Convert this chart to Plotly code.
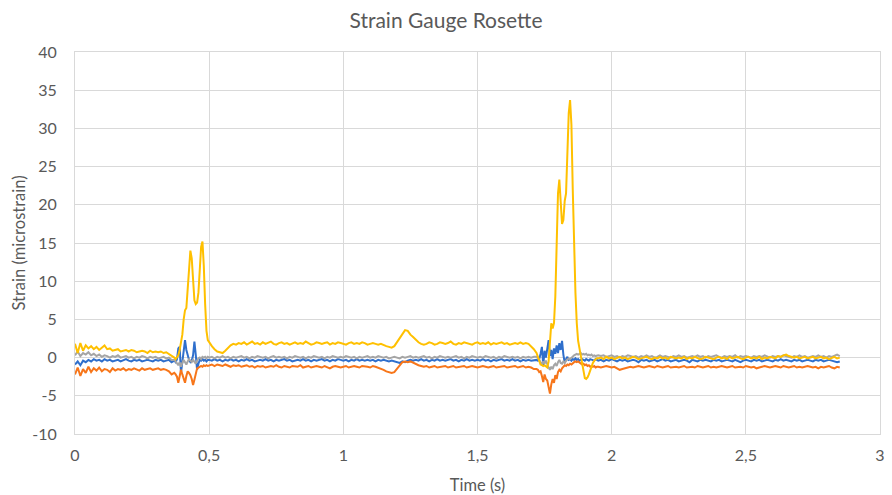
import numpy as np
import plotly.graph_objects as go

# Time segments (s): (start, end) for each block of samples
segments = [(0.00, 0.36), (0.37, 0.495), (0.50, 1.71), (1.72, 1.945), (1.95, 2.85)]

# ---- Series values (microstrain), one list per segment ----
blue_a = [-0.9,-0.5,-1.0,-0.4,-0.6, -0.3,-0.5,-0.2,-0.4,-0.3, -0.5,-0.2,-0.4,-0.3,-0.5, -0.4,-0.3,-0.5,-0.4,-0.2,
          -0.4,-0.5,-0.3,-0.4,-0.3, -0.5,-0.4,-0.3,-0.4,-0.5, -0.3,-0.4,-0.3,-0.5,-0.4, -0.3,-0.6]
blue_b = [-0.4,-0.6,-0.2,1.2,1.4, -2.0,-0.5,1.5,2.3,1.0, 0.1,-0.3,-0.6,-0.4,0.3, 2.1,0.4,-1.6,-0.8,-0.3,
          -0.4,-0.2,-0.4,-0.3,-0.5, -0.3]
blue_c = [-0.3,-0.4,-0.2,-0.4,-0.3,-0.5,-0.3,-0.4,-0.2,-0.4,
          -0.3,-0.5,-0.3,-0.4,-0.2,-0.4,-0.3,-0.5,-0.4,-0.3,
          -0.4,-0.2,-0.4,-0.3,-0.5,-0.3,-0.4,-0.3,-0.2,-0.4,
          -0.3,-0.5,-0.4,-0.3,-0.4,-0.2,-0.4,-0.3,-0.5,-0.3,
          -0.4,-0.3,-0.2,-0.4,-0.3,-0.5,-0.3,-0.4,-0.2,-0.3,
          -0.4,-0.3,-0.5,-0.3,-0.4,-0.2,-0.4,-0.3,-0.4,-0.3,
          -0.4,-0.3,-0.5,-0.3,-0.4,-0.3,-0.4,-0.5,-0.4,-0.5,
          -0.6,-0.7,-0.5,-0.6,-0.4,-0.3,-0.4,-0.3,-0.4,-0.2,
          -0.4,-0.3,-0.5,-0.3,-0.4,-0.2,-0.4,-0.3,-0.4,-0.3,
          -0.2,-0.4,-0.3,-0.5,-0.3,-0.4,-0.2,-0.4,-0.3,-0.4,
          -0.3,-0.4,-0.2,-0.4,-0.3,-0.5,-0.3,-0.4,-0.3,-0.2,
          -0.4,-0.3,-0.4,-0.2,-0.4,-0.3,-0.5,-0.3,-0.4,-0.3,
          -0.4,-0.3]
blue_d = [-0.3,-0.4,-0.2,0.5,1.4, -1.0,0.9,0.0,1.5,2.3, 0.2,1.0,-0.2,1.2,0.5, 1.6,0.6,1.9,1.0,2.2,
          0.4,-0.7,-0.2,0.1,-0.3, -0.2,
          -0.4,-0.2,-0.3,-0.1,-0.3,-0.2,-0.4,-0.3,-0.2,-0.3,-0.4,-0.2,-0.3,-0.4,-0.2,-0.3,-0.3,-0.4,-0.2,-0.3]
blue_e = [-0.4,-0.3,-0.5,-0.3,-0.4,-0.2,-0.4,-0.5,-0.3,-0.4,
          -0.3,-0.5,-0.4,-0.3,-0.4,-0.6,-0.3,-0.4,-0.3,-0.5,
          -0.4,-0.3,-0.5,-0.4,-0.2,-0.4,-0.3,-0.5,-0.4,-0.3,
          -0.5,-0.4,-0.3,-0.4,-0.6,-0.3,-0.4,-0.5,-0.3,-0.4,
          -0.3,-0.4,-0.5,-0.3,-0.4,-0.3,-0.5,-0.4,-0.3,-0.4,
          -0.5,-0.3,-0.4,-0.6,-0.4,-0.3,-0.4,-0.5,-0.3,-0.4,
          -0.3,-0.5,-0.4,-0.3,-0.4,-0.5,-0.3,-0.4,-0.2,-0.4,
          -0.3,-0.4,-0.5,-0.3,-0.4,-0.3,-0.5,-0.4,-0.3,-0.4,
          -0.5,-0.3,-0.4,-0.3,-0.5,-0.4,-0.3,-0.4,-0.5,-0.6,
          -0.5]

orange_a = [-2.2,-1.3,-2.4,-1.5,-2.0, -1.2,-1.9,-1.4,-1.7,-1.3, -1.8,-1.5,-1.6,-1.9,-1.4, -1.7,-1.5,-1.6,-1.4,-1.7,
            -1.5,-1.6,-1.4,-1.5,-1.7, -1.4,-1.6,-1.5,-1.4,-1.6, -1.5,-1.4,-1.6,-1.5,-1.6, -1.8,-2.2]
orange_b = [-2.0,-2.2,-2.5,-3.3,-2.4, -1.6,-2.2,-2.8,-3.3,-2.4, -1.8,-2.0,-2.3,-2.8,-3.6, -2.9,-1.9,-1.4,-1.3,-1.2,
            -1.1,-1.2,-1.0,-1.1,-1.0, -1.1]
orange_c = [-1.0,-0.9,-1.1,-0.9,-1.0,-1.1,-0.9,-1.0,-1.2,-1.0,
            -1.1,-1.0,-1.2,-1.1,-1.0,-1.2,-1.1,-1.3,-1.1,-1.2,
            -1.1,-1.3,-1.2,-1.1,-1.2,-1.0,-1.2,-1.3,-1.1,-1.2,
            -1.3,-1.1,-1.2,-1.2,-1.0,-1.3,-1.2,-1.1,-1.3,-1.2,
            -1.1,-1.2,-1.3,-1.1,-1.2,-1.4,-1.2,-1.1,-1.2,-1.3,
            -1.2,-1.1,-1.3,-1.2,-1.1,-1.2,-1.3,-1.1,-1.2,-1.2,
            -1.3,-1.1,-1.2,-1.3,-1.4,-1.6,-1.8,-1.9,-2.0,-1.9,
            -1.5,-1.0,-0.6,-0.5,-0.6,-0.5,-0.7,-0.9,-1.0,-1.1,
            -1.2,-1.1,-1.3,-1.2,-1.1,-1.3,-1.2,-1.2,-1.1,-1.3,
            -1.2,-1.1,-1.3,-1.2,-1.2,-1.1,-1.3,-1.2,-1.1,-1.2,
            -1.3,-1.2,-1.1,-1.2,-1.3,-1.2,-1.1,-1.3,-1.2,-1.2,
            -1.1,-1.3,-1.2,-1.2,-1.1,-1.3,-1.2,-1.1,-1.3,-1.2,
            -1.3,-1.5]
orange_d = [-1.5,-1.6,-1.9,-1.8,-2.4, -3.2,-2.2,-2.8,-3.0,-3.8, -4.7,-3.5,-2.8,-3.3,-2.3, -2.8,-1.9,-1.6,-1.8,-1.4,
            -1.2,-1.0,-1.1,-0.9,-1.0, -0.8,-0.9,-0.7,-0.6,-0.5, -0.6,-0.5,-0.6,-0.7,-0.9, -0.8,-1.0,-0.9,-1.1,-1.0,
            -1.2,-1.1,-1.2,-1.1,-1.3, -1.2]
orange_e = [-1.2,-1.3,-1.2,-1.1,-1.2,-1.3,-1.2,-1.4,-1.6,-1.5,
            -1.4,-1.3,-1.2,-1.3,-1.2,-1.1,-1.2,-1.3,-1.2,-1.1,
            -1.2,-1.3,-1.1,-1.2,-1.3,-1.2,-1.1,-1.3,-1.2,-1.2,
            -1.3,-1.2,-1.1,-1.3,-1.2,-1.2,-1.3,-1.1,-1.2,-1.3,
            -1.2,-1.1,-1.3,-1.2,-1.3,-1.2,-1.1,-1.2,-1.3,-1.2,
            -1.1,-1.3,-1.2,-1.2,-1.3,-1.1,-1.2,-1.3,-1.2,-1.4,
            -1.3,-1.2,-1.1,-1.2,-1.3,-1.2,-1.1,-1.2,-1.3,-1.1,
            -1.2,-1.3,-1.2,-1.1,-1.3,-1.2,-1.3,-1.2,-1.1,-1.2,
            -1.3,-1.2,-1.4,-1.2,-1.3,-1.2,-1.1,-1.3,-1.4,-1.2,
            -1.3]

gray_a = [0.3,0.8,0.2,0.6,0.4, 0.7,0.3,0.5,0.2,0.4, 0.1,0.3,0.2,0.0,0.2, 0.1,0.3,0.0,0.1,0.2,
          0.0,0.1,-0.1,0.1,0.0, 0.2,0.1,-0.1,0.1,0.0, 0.1,-0.1,0.0,0.1,-0.1, 0.0,-0.3]
gray_b = [-0.3,-0.5,-0.8,-1.0,-0.6, -1.2,-0.7,-0.3,-0.6,-0.9, -0.5,-0.2,-0.4,-0.6,-0.3, -0.5,-0.8,-0.4,-0.1,0.0,
          -0.2,0.1,0.0,0.1,-0.1, 0.1]
gray_c = [0.0,0.1,-0.1,0.1,0.0,0.2,0.0,0.1,-0.1,0.1,
          0.0,0.1,0.2,0.0,0.1,-0.1,0.1,0.0,0.2,0.1,
          0.0,0.1,-0.1,0.1,0.2,0.0,0.1,0.0,0.1,-0.1,
          0.1,0.0,0.2,0.1,0.0,0.1,-0.1,0.1,0.0,0.2,
          0.1,0.0,0.1,-0.1,0.1,0.0,0.2,0.1,0.0,0.1,
          0.0,0.2,0.1,0.0,0.1,-0.1,0.1,0.0,0.1,0.2,
          0.0,0.1,0.0,0.2,0.1,0.0,0.1,-0.1,0.0,0.1,
          0.0,-0.1,0.1,0.0,0.1,0.2,0.0,0.1,0.0,0.1,
          0.2,0.0,0.1,-0.1,0.1,0.0,0.2,0.1,0.0,0.1,
          0.0,0.1,0.2,0.0,0.1,-0.1,0.1,0.0,0.2,0.1,
          0.0,0.1,0.0,0.2,0.1,0.0,0.1,-0.1,0.1,0.0,
          0.2,0.1,0.0,0.1,0.0,0.1,-0.1,0.1,0.0,0.1,
          0.0,0.1]
gray_d = [0.1,0.0,-0.3,-0.6,-0.9, -0.5,-0.8,-0.4,-1.0,-1.3, -1.6,-1.2,-1.5,-1.0,-0.8, -1.1,-0.6,-0.3,-0.7,-0.8,
          -0.5,-0.7,-0.4,-0.3,-0.1, -0.2,0.0,0.2,0.3,0.4, 0.5,0.4,0.5,0.6,0.4, 0.5,0.4,0.5,0.3,0.4,
          0.3,0.4,0.2,0.3,0.2, 0.3]
gray_e = [0.3,0.2,0.3,0.1,0.2,0.3,0.1,0.2,0.0,0.2,
          0.1,0.3,0.2,0.1,0.2,0.0,0.2,0.1,0.3,0.1,
          0.2,0.0,0.1,0.3,0.1,0.2,0.1,0.0,0.2,0.1,
          0.3,0.1,0.2,0.0,0.1,0.2,0.1,0.3,0.1,0.2,
          0.0,0.2,0.1,0.2,0.3,0.1,0.0,0.2,0.1,0.2,
          0.1,0.3,0.0,0.2,0.1,0.2,0.1,0.0,0.2,0.1,
          0.2,0.1,0.3,0.1,0.0,0.2,0.1,0.2,0.1,0.3,
          0.2,0.1,0.0,0.2,0.1,0.3,0.1,0.2,0.0,0.1,
          0.2,0.1,0.3,0.1,0.2,0.0,0.2,0.1,0.3,0.4,
          0.2]

yellow_a = [1.8,0.6,1.9,0.9,1.6, 1.2,1.5,1.1,1.4,1.0, 1.3,1.6,1.1,1.2,0.9, 1.0,1.1,0.8,0.9,1.0,
            0.8,1.0,0.9,0.7,0.8, 0.9,0.8,0.6,0.9,0.7, 0.8,0.7,0.8,0.6,0.7, 0.5,0.3]
yellow_b = [0.0,-0.2,0.1,0.3,1.0, 1.8,3.0,5.0,6.2,6.5, 9.0,12.5,14.0,13.0,9.5, 7.5,7.0,7.2,8.5,11.5,
            14.5,15.2,12.0,7.0,3.5, 2.3]
yellow_c = [2.0,1.5,1.1,0.8,0.7,0.6,0.9,1.3,1.6,1.8,1.7,
            1.9,1.8,2.0,1.7,1.9,2.1,1.8,1.9,1.7,2.0,
            1.8,1.9,2.1,1.8,1.7,1.9,2.0,1.8,1.9,1.7,
            1.9,2.0,1.8,1.9,1.8,2.1,1.9,1.7,1.8,2.0,
            1.9,1.8,1.9,2.0,1.7,1.9,1.8,2.0,1.9,1.8,
            1.7,1.9,2.0,1.8,1.9,1.8,2.0,1.9,1.7,1.8,
            1.9,1.8,1.7,1.8,
            1.6,1.5,1.4,1.3,1.5,2.0,2.5,3.0,3.6,3.5,3.0,2.7,2.3,2.0,1.8,1.7,
            1.8,2.0,1.9,1.7,1.8,2.0,1.9,1.8,1.9,2.1,
            1.8,1.7,1.9,1.8,2.0,1.9,1.8,1.7,1.9,2.0,
            1.8,1.9,1.8,2.0,1.7,1.9,1.8,1.9,2.0,1.8,
            1.9,1.7,1.8,1.9,1.8,2.0,1.8,1.9,1.8,
            1.5,1.1]
yellow_d = [0.6,0.0,-0.6,-0.9,-1.0, -1.1,-1.0,-1.2,-1.3,-0.5, 2.0,4.5,3.8,4.5,8.0, 15.0,21.5,23.3,20.0,17.5,
            18.0,20.5,21.5,27.0,32.0, 33.7,30.5,22.0,14.0,8.5, 4.5,2.2,1.2,0.3,-0.8, -2.0,-2.7,-2.8,-2.6,-2.2,
            -1.6,-1.1,-0.7,-0.4,-0.2, -0.1]
yellow_e = [-0.1,0.0,-0.2,0.1,-0.1,0.0,-0.2,-0.1,0.1,-0.1,
            0.0,-0.2,-0.1,0.1,0.0,-0.2,-0.1,0.0,0.1,-0.1,
            -0.2,0.0,-0.1,0.1,-0.1,0.0,-0.2,0.1,0.0,-0.1,
            0.0,-0.1,0.1,-0.2,0.0,-0.1,0.1,0.0,-0.2,-0.1,
            0.1,0.0,-0.1,-0.2,0.0,0.1,-0.1,0.0,-0.2,0.1,
            -0.1,0.0,0.1,-0.1,-0.2,0.0,0.1,-0.1,0.0,-0.1,
            0.1,-0.2,0.0,-0.1,0.1,0.0,-0.1,0.2,0.1,0.3,
            0.4,0.2,0.1,0.0,0.1,-0.1,0.0,0.1,-0.1,0.0,
            0.1,-0.1,0.0,0.1,-0.1,0.0,-0.2,0.0,0.1,-0.1,
            0.0]

series_names = ["Series1", "Series2", "Series3", "Series4"]
series_colors = ["#2F6FCC", "#F7761A", "#A5A5A5", "#FFC000"]
series_segments = [
    [blue_a, blue_b, blue_c, blue_d, blue_e],
    [orange_a, orange_b, orange_c, orange_d, orange_e],
    [gray_a, gray_b, gray_c, gray_d, gray_e],
    [yellow_a, yellow_b, yellow_c, yellow_d, yellow_e],
]

x_tickvals = [0, 0.5, 1, 1.5, 2, 2.5, 3]
x_ticktext = ["0", "0,5", "1", "1,5", "2", "2,5", "3"]
y_tickvals = [-10, -5, 0, 5, 10, 15, 20, 25, 30, 35, 40]
y_ticktext = ["-10", "-5", "0", "5", "10", "15", "20", "25", "30", "35", "40"]


def build(seg_vals):
    xs, ys = [], []
    for (t0, t1), vals in zip(segments, seg_vals):
        xs.extend(np.linspace(t0, t1, len(vals)).tolist())
        ys.extend(vals)
    return xs, ys


fig = go.Figure()
for name, color, segs in zip(series_names, series_colors, series_segments):
    xs, ys = build(segs)
    fig.add_trace(go.Scatter(x=xs, y=ys, mode="lines", name=name,
                             line=dict(color=color, width=2)))

FONT = "Lato"
TXT = "#595959"
GRID = "#D9D9D9"

fig.update_layout(
    width=892, height=495,
    margin=dict(l=75, r=12, t=52, b=61),
    paper_bgcolor="white", plot_bgcolor="white",
    showlegend=False,
    title=dict(text="Strain Gauge Rosette", x=0.5, xanchor="center", y=0.958, yanchor="middle",
               font=dict(family=FONT, size=21, color=TXT)),
    font=dict(family=FONT, color=TXT, size=16),
)
fig.update_xaxes(
    range=[0, 3], tickvals=x_tickvals, ticktext=x_ticktext, automargin=False,
    showgrid=True, gridcolor=GRID, gridwidth=1, zeroline=False,
    showline=True, linecolor=GRID, linewidth=1, mirror=True,
    ticks="outside", ticklen=7, tickcolor="rgba(0,0,0,0)",
    tickfont=dict(family=FONT, size=16, color=TXT),
    title=dict(text="Time (s)", font=dict(family=FONT, size=16.5, color=TXT), standoff=16),
)
fig.update_yaxes(
    range=[-10, 40], tickvals=y_tickvals, ticktext=y_ticktext, automargin=False,
    showgrid=True, gridcolor=GRID, gridwidth=1, zeroline=False,
    showline=True, linecolor=GRID, linewidth=1, mirror=True,
    ticks="outside", ticklen=14, tickcolor="rgba(0,0,0,0)",
    tickfont=dict(family=FONT, size=16, color=TXT),
    title=dict(text="Strain (microstrain)", font=dict(family=FONT, size=16.5, color=TXT), standoff=2),
)

fig.write_html("out.html", config={"displayModeBar": False},
               post_script="document.body.style.margin='0px';document.body.style.overflow='hidden';")
